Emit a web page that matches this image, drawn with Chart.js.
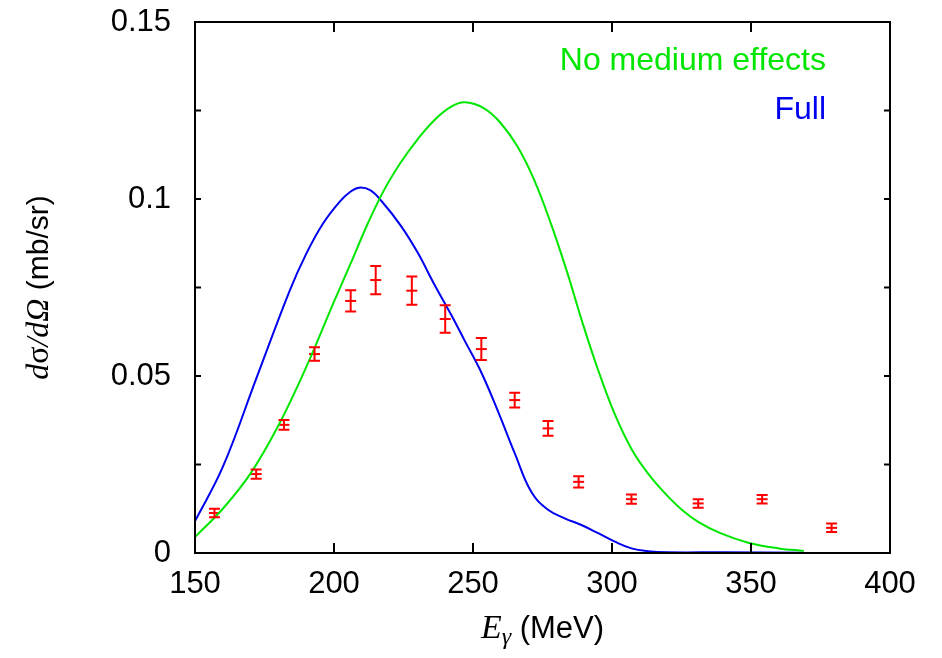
<!DOCTYPE html>
<html>
<head>
<meta charset="utf-8">
<script src="https://cdn.jsdelivr.net/npm/chart.js@4.4.1/dist/chart.umd.min.js"></script>
<style>
  html, body { margin: 0; padding: 0; background: #fff; }
  #wrap { width: 942px; height: 658px; }
</style>
</head>
<body>
<div id="wrap"><canvas id="c" width="942" height="658"></canvas></div>
<script>
// measured points with errors
var dataEnergy = [157, 172, 182, 193, 206, 215, 228, 240, 253, 265, 277, 288, 307, 331, 354, 379];
var dataValue  = [0.0113, 0.0223, 0.0362, 0.0562, 0.0712, 0.0771, 0.0741, 0.0661, 0.0576, 0.0432, 0.0352, 0.0201, 0.0152, 0.0140, 0.0152, 0.0071];
var dataError  = [0.0012, 0.0013, 0.0014, 0.0019, 0.0030, 0.0040, 0.0040, 0.0039, 0.0031, 0.0021, 0.0021, 0.0016, 0.0013, 0.0012, 0.0012, 0.0012];

// "No medium effects" curve
var noMedEnergy = [150, 160, 170, 180, 190, 200, 206, 212, 218, 224, 230, 236, 242, 247, 254, 260, 266, 272, 278, 284, 289, 295, 301, 307, 313, 319, 325, 331, 339, 349, 360, 369];
var noMedValue  = [0.0045, 0.0125, 0.0225, 0.0360, 0.0525, 0.0710, 0.0818, 0.0928, 0.1025, 0.1103, 0.1168, 0.1222, 0.1260, 0.1273, 0.1256, 0.1214, 0.1148, 0.1054, 0.0931, 0.0790, 0.0660, 0.0517, 0.0392, 0.0294, 0.0224, 0.0169, 0.0123, 0.0088, 0.0056, 0.0029, 0.0013, 0.0006];

// "Full" curve
var fullEnergy = [150, 160, 172, 184, 190, 196, 202, 206, 209, 213, 217, 224, 230, 236, 242, 247, 253, 259, 265, 271, 277, 283, 289, 295, 301, 307, 313, 320, 340, 369];
var fullValue  = [0.0090, 0.0243, 0.0492, 0.0740, 0.0845, 0.0930, 0.0992, 0.1021, 0.1032, 0.1025, 0.0995, 0.0925, 0.0850, 0.0760, 0.0675, 0.0600, 0.0510, 0.0400, 0.0282, 0.0172, 0.0122, 0.0098, 0.0079, 0.0056, 0.0032, 0.0013, 0.0005, 0.0002, 0.0002, 0.0001];

var xTicks = [150, 200, 250, 300, 350, 400];
var yLabelTicks = [0, 0.05, 0.1, 0.15];

var GREEN = '#00e600', BLUE = '#0000f0', RED = '#ff0000';

function pairs(xs, ys) {
  return xs.map(function (x, i) { return { x: x, y: ys[i] }; });
}

Chart.defaults.font.family = '"Liberation Sans", Arial, sans-serif';
Chart.defaults.color = '#000';

// frame, inward ticks, error bars, key and axis titles
var decorations = {
  id: 'decorations',
  afterDatasetsDraw: function (chart) {
    var ctx = chart.ctx, xs = chart.scales.x, ys = chart.scales.y;
    ctx.save();
    ctx.strokeStyle = RED;
    ctx.lineWidth = 2;
    for (var i = 0; i < dataEnergy.length; i++) {
      var px = xs.getPixelForValue(dataEnergy[i]);
      var top = ys.getPixelForValue(dataValue[i] + dataError[i]);
      var bot = ys.getPixelForValue(dataValue[i] - dataError[i]);
      ctx.beginPath();
      ctx.moveTo(px, top); ctx.lineTo(px, bot);
      ctx.moveTo(px - 5.5, top); ctx.lineTo(px + 5.5, top);
      ctx.moveTo(px - 5.5, bot); ctx.lineTo(px + 5.5, bot);
      ctx.stroke();
    }
    ctx.restore();
  },
  afterDraw: function (chart) {
    var ctx = chart.ctx, a = chart.chartArea, xs = chart.scales.x, ys = chart.scales.y;
    ctx.save();
    ctx.strokeStyle = '#000';
    ctx.lineWidth = 2;
    ctx.strokeRect(a.left, a.top, a.right - a.left, a.bottom - a.top);
    ctx.beginPath();
    xs.ticks.forEach(function (t) {
      var p = xs.getPixelForValue(t.value);
      ctx.moveTo(p, a.bottom); ctx.lineTo(p, a.bottom - 10);
      ctx.moveTo(p, a.top); ctx.lineTo(p, a.top + 10);
    });
    ys.ticks.forEach(function (t) {
      var p = ys.getPixelForValue(t.value);
      ctx.moveTo(a.left, p); ctx.lineTo(a.left + 6, p);
      ctx.moveTo(a.right, p); ctx.lineTo(a.right - 6, p);
    });
    ctx.stroke();

    // key
    ctx.font = '32px "Liberation Sans"';
    ctx.textAlign = 'right';
    ctx.textBaseline = 'alphabetic';
    ctx.fillStyle = GREEN;
    ctx.fillText('No medium effects', 826, 70);
    ctx.fillStyle = BLUE;
    ctx.fillText('Full', 826, 119);

    // x title: E_gamma (MeV)
    ctx.fillStyle = '#000';
    ctx.textAlign = 'left';
    var fE = 'italic 34px "Liberation Serif"', fG = 'italic 24px "Liberation Serif"', fS = '31px "Liberation Sans"';
    ctx.font = fE; var wE = ctx.measureText('E').width;
    ctx.font = fG; var wG = ctx.measureText('\u03b3').width;
    ctx.font = fS; var wS = ctx.measureText(' (MeV)').width;
    var x0 = (a.left + a.right) / 2 - (wE + wG + wS) / 2, base = 638;
    ctx.font = fE; ctx.fillText('E', x0, base);
    ctx.font = fG; ctx.fillText('\u03b3', x0 + wE, base + 6);
    ctx.font = fS; ctx.fillText(' (MeV)', x0 + wE + wG, base);

    // y title: dsigma/dOmega (mb/sr)
    ctx.translate(48, (a.top + a.bottom) / 2);
    ctx.rotate(-Math.PI / 2);
    var parts = [
      ['d', 'italic 32px "Liberation Serif"'],
      ['\u03c3', '32px "Liberation Serif"'],
      ['/d', 'italic 32px "Liberation Serif"'],
      ['\u03a9', 'italic 32px "Liberation Serif"'],
      [' (mb/sr)', '30px "Liberation Sans"']
    ];
    var total = 0;
    parts.forEach(function (p) { ctx.font = p[1]; p.push(ctx.measureText(p[0]).width); total += p[2]; });
    var cx = -total / 2;
    parts.forEach(function (p) { ctx.font = p[1]; ctx.fillText(p[0], cx, 0); cx += p[2]; });
    ctx.restore();
  }
};

new Chart(document.getElementById('c'), {
  type: 'scatter',
  data: {
    datasets: [
      {
        label: 'No medium effects',
        data: pairs(noMedEnergy, noMedValue),
        showLine: true, borderColor: GREEN, borderWidth: 2, pointRadius: 0,
        tension: 0.4, fill: false
      },
      {
        label: 'Full',
        data: pairs(fullEnergy, fullValue),
        showLine: true, borderColor: BLUE, borderWidth: 2, pointRadius: 0,
        tension: 0.4, fill: false
      },
      {
        label: 'data',
        data: pairs(dataEnergy, dataValue),
        showLine: false, pointStyle: 'line', pointRadius: 5.5,
        borderColor: RED, backgroundColor: RED, borderWidth: 2
      }
    ]
  },
  options: {
    responsive: false,
    animation: false,
    devicePixelRatio: 1,
    layout: { padding: { top: 22, right: 52, bottom: 0, left: 0 } },
    plugins: { legend: { display: false }, tooltip: { enabled: false } },
    scales: {
      x: {
        type: 'linear', min: 150, max: 400,
        afterFit: function (s) { s.height = 105; s.paddingLeft = 0; s.paddingRight = 0; },
        grid: { display: false, drawTicks: false },
        border: { display: false },
        afterBuildTicks: function (s) { s.ticks = xTicks.map(function (v) { return { value: v }; }); },
        ticks: { padding: 13, font: { size: 31 }, autoSkip: false, maxRotation: 0,
          callback: function (v) { return String(v); } }
      },
      y: {
        type: 'linear', min: 0, max: 0.15,
        afterFit: function (s) { s.width = 195; s.paddingTop = 0; s.paddingBottom = 0; },
        grid: { display: false, drawTicks: false },
        border: { display: false },
        ticks: { stepSize: 0.025, padding: 24, font: { size: 31 }, autoSkip: false,
          callback: function (v) {
            for (var i = 0; i < yLabelTicks.length; i++) {
              if (Math.abs(v - yLabelTicks[i]) < 1e-9) return String(yLabelTicks[i]);
            }
            return '';
          } }
      }
    }
  },
  plugins: [decorations]
});
</script>
</body>
</html>
